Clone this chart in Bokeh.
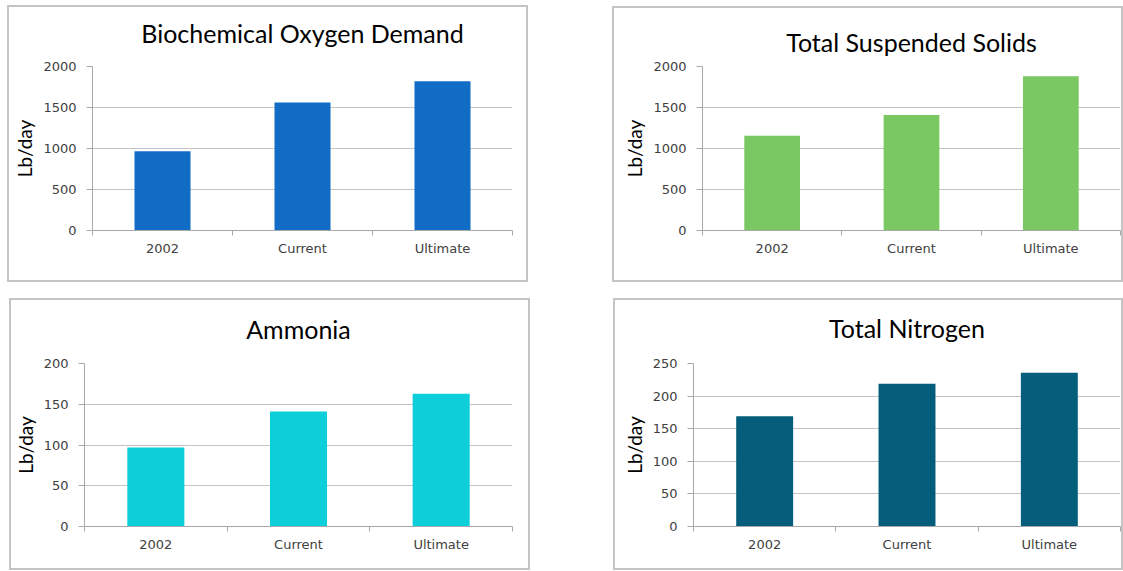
from bokeh.plotting import figure
from bokeh.models import Range1d, FixedTicker, SingleIntervalTicker, Spacer
from bokeh.layouts import row, column
from bokeh.embed import file_html
from bokeh.resources import INLINE

categories = ["2002", "Current", "Ultimate"]
bod_values = [965, 1560, 1820]
tss_values = [1155, 1410, 1880]
ammonia_values = [97, 141, 163]
nitrogen_values = [169, 219, 236]

titles = ["Biochemical Oxygen Demand", "Total Suspended Solids", "Ammonia", "Total Nitrogen"]
y_max = [2000, 2000, 200, 250]
y_step = [500, 500, 50, 50]
colors = ["#106CC5", "#79C862", "#0DCFDA", "#045D7A"]
y_label = "Lb/day"

GRID = "#c3c3c3"
BORDER = "#c4c4c4"


def box_styles(h, top):
    g = "linear-gradient(%s,%s)" % (BORDER, BORDER)
    return {
        "background-color": "#ffffff",
        "background-image": ",".join([g] * 4),
        "background-repeat": "no-repeat",
        "background-size": "100%% 2px, 100%% 2px, 2px %dpx, 2px %dpx" % (h - top, h - top),
        "background-position": "0 %dpx, 0 100%%, 0 %dpx, 100%% %dpx" % (top, top, top),
    }


def panel(title, values, ymax, step, color, w, h, mbl, mbr, mbt, mbb, standoff, valign, top):
    n = len(categories)
    p = figure(width=w, height=h, x_range=Range1d(0, n), y_range=Range1d(0, ymax),
               output_backend="svg", toolbar_location=None, title=title,
               min_border_left=mbl, min_border_right=mbr, min_border_top=mbt,
               min_border_bottom=mbb, background_fill_color="white",
               border_fill_color=None, outline_line_color=None,
               styles=box_styles(h, top))
    xs = [i + 0.5 for i in range(n)]
    p.vbar(x=xs, top=values, width=0.4, fill_color=color, line_color=None)

    p.title.text_font = "Lato"
    p.title.text_font_size = "25px"
    p.title.text_font_style = "normal"
    p.title.text_color = "#000000"
    p.title.align = "center"
    p.title.vertical_align = valign
    p.title.standoff = standoff

    # x axis
    xt = FixedTicker(ticks=xs, minor_ticks=list(range(n + 1)))
    p.xaxis.ticker = xt
    p.xaxis.major_label_overrides = {x: c for x, c in zip(xs, categories)}
    p.xaxis.major_tick_out = 0
    p.xaxis.major_tick_in = 0
    p.xaxis.minor_tick_out = 5
    p.xaxis.minor_tick_in = 0
    p.xaxis.minor_tick_line_color = "#a8a8a8"
    p.xaxis.axis_line_color = "#a8a8a8"
    p.xaxis.major_label_standoff = 5
    p.xaxis.major_label_text_font = "DejaVu Sans"
    p.xaxis.major_label_text_font_size = "13px"
    p.xaxis.major_label_text_color = "#404040"

    # y axis
    p.yaxis.ticker = SingleIntervalTicker(interval=step, num_minor_ticks=0)
    p.yaxis.major_tick_out = 6
    p.yaxis.major_tick_in = 0
    p.yaxis.minor_tick_out = 0
    p.yaxis.minor_tick_in = 0
    p.yaxis.major_tick_line_color = "#a8a8a8"
    p.yaxis.axis_line_color = "#a8a8a8"
    p.yaxis.major_label_standoff = 10
    p.yaxis.major_label_text_font = "DejaVu Sans"
    p.yaxis.major_label_text_font_size = "13px"
    p.yaxis.major_label_text_color = "#404040"
    p.yaxis.axis_label = y_label
    p.yaxis.axis_label_text_font = "Lato"
    p.yaxis.axis_label_text_font_size = "19px"
    p.yaxis.axis_label_text_font_style = "normal"
    p.yaxis.axis_label_text_color = "#000000"
    p.yaxis.axis_label_standoff = 4

    p.xgrid.grid_line_color = None
    p.ygrid.grid_line_color = GRID
    p.ygrid.grid_line_width = 1
    return p


p1 = panel(titles[0], bod_values, y_max[0], y_step[0], colors[0], 521, 282, 85, 16, 66, 52, 33, "top", 5)
p2 = panel(titles[1], tss_values, y_max[1], y_step[1], colors[1], 511, 282, 90, 3, 66, 52, 20, "bottom", 6)
p3 = panel(titles[2], ammonia_values, y_max[2], y_step[2], colors[2], 521, 277, 75, 18, 70, 44, 36, "top", 5)
p4 = panel(titles[3], nitrogen_values, y_max[3], y_step[3], colors[3], 510, 277, 80, 3, 70, 44, 37, "top", 5)

layout = column(
    row(Spacer(width=7), p1, Spacer(width=84), p2, spacing=0),
    Spacer(height=11),
    row(Spacer(width=9), p3, Spacer(width=83), p4, spacing=0),
    spacing=0,
)

open("out.html", "w").write(file_html(layout, INLINE))
